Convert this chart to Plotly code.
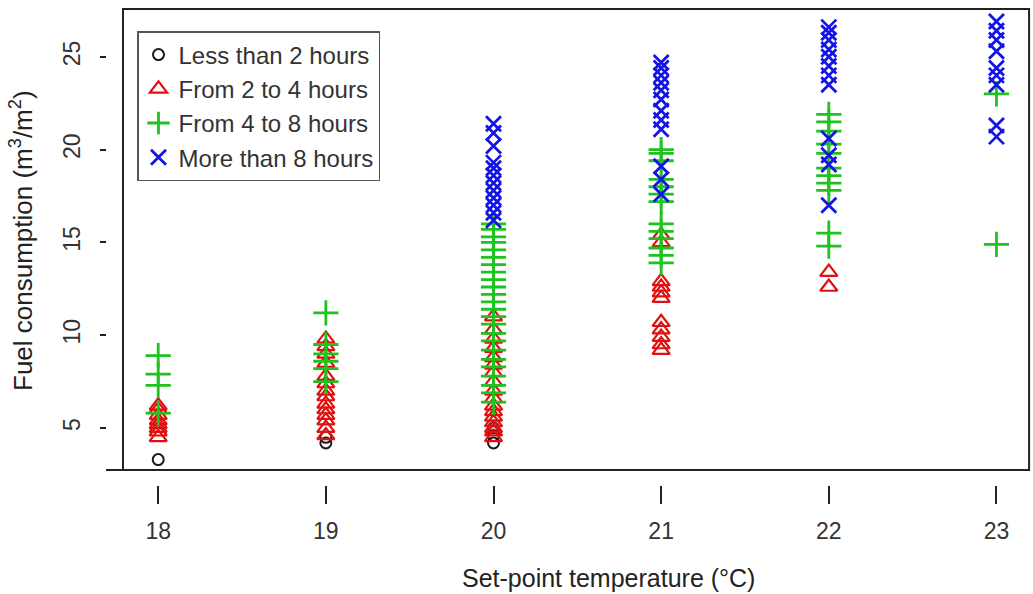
import plotly.graph_objects as go

# ---------------- data ----------------
temps = [18, 19, 20, 21, 22, 23]
y_ticks = [5, 10, 15, 20, 25]

less2_x = [18, 19, 19, 20, 20, 20]
less2_y = [3.3, 4.2, 4.5, 4.2, 4.6, 5.0]

from2to4_x = ([18] * 8 + [19] * 14 + [20] * 17 + [21] * 11 + [22] * 2)
from2to4_y = [4.5, 4.8, 5.0, 5.2, 5.4, 5.7, 6.0, 6.2,
              4.6, 5.0, 5.4, 5.7, 6.0, 6.3, 6.7, 7.0, 7.4, 7.8, 8.5, 9.0, 9.4, 9.8,
              4.5, 4.8, 5.0, 5.3, 5.6, 5.9, 6.2, 6.6, 7.0, 7.5, 8.0, 8.4, 8.8, 9.3, 9.8, 10.3, 11.0,
              9.2, 9.5, 9.9, 10.3, 10.7, 12.0, 12.3, 12.6, 12.9, 15.0, 15.4,
              12.6, 13.4]

from4to8_x = ([18] * 4 + [19] * 6 + [20] * 24 + [21] * 13 + [22] * 11 + [23] * 2)
from4to8_y = [5.8, 7.3, 7.9, 8.9,
              7.5, 8.2, 8.6, 9.0, 9.5, 11.2,
              6.4, 6.9, 7.3, 7.8, 8.3, 8.7, 9.2, 9.7, 10.1, 10.6, 11.0, 11.4, 11.8, 12.2,
              12.6, 13.0, 13.4, 13.8, 14.2, 14.6, 15.0, 15.3, 15.7, 16.0,
              13.9, 14.3, 14.7, 15.2, 15.6, 16.0, 17.2, 17.6, 18.0, 18.4, 19.4, 19.8, 20.0,
              14.8, 15.5, 17.8, 18.2, 18.6, 19.0, 19.8, 20.3, 21.0, 21.5, 21.9,
              14.9, 23.0]

more8_x = ([20] * 12 + [21] * 12 + [22] * 12 + [23] * 9)
more8_y = [16.2, 16.6, 17.0, 17.4, 17.8, 18.2, 18.6, 19.0, 19.3, 20.2, 20.9, 21.4,
           17.6, 18.4, 19.1, 21.1, 21.6, 22.1, 22.7, 23.2, 23.6, 24.0, 24.4, 24.7,
           17.0, 19.2, 19.7, 20.6, 23.5, 24.0, 24.5, 25.0, 25.4, 25.9, 26.3, 26.6,
           20.7, 21.3, 23.5, 24.0, 24.4, 25.3, 25.9, 26.4, 26.9]

series_names = ["Less than 2 hours", "From 2 to 4 hours", "From 4 to 8 hours", "More than 8 hours"]

# ---------------- layout geometry ----------------
W, H = 1033, 594
ml, mr, mt, mb = 106, 3, 8, 109
pw = W - ml - mr
ph = H - mt - mb
x_dom0 = (123 - ml) / pw
y_dom0 = (485 - 470) / ph

fig = go.Figure()

fig.add_trace(go.Scatter(x=less2_x, y=less2_y, mode="markers", name=series_names[0],
                         marker=dict(symbol="circle-open", size=11, color="#1a1a1a",
                                     line=dict(width=2, color="#1a1a1a"))))
fig.add_trace(go.Scatter(x=from2to4_x, y=from2to4_y, mode="markers", name=series_names[1],
                         marker=dict(symbol="triangle-up-open", size=15, color="#e01010",
                                     line=dict(width=2.2, color="#e01010"))))
fig.add_trace(go.Scatter(x=from4to8_x, y=from4to8_y, mode="markers", name=series_names[2],
                         marker=dict(symbol="cross-thin-open", size=18, color="#1fc21f",
                                     line=dict(width=2.8, color="#1fc21f"))))
fig.add_trace(go.Scatter(x=more8_x, y=more8_y, mode="markers", name=series_names[3],
                         marker=dict(symbol="x-thin-open", size=15, color="#1414e6",
                                     line=dict(width=2.8, color="#1414e6"))))

tick_font = dict(family="Liberation Sans, Arial", size=23, color="#333333")

fig.update_layout(
    width=W, height=H,
    margin=dict(l=ml, r=mr, t=mt, b=mb, pad=0),
    paper_bgcolor="white", plot_bgcolor="white",
    showlegend=True,
    legend=dict(x=(137 - ml) / pw, y=(485 - 31) / ph, xanchor="left", yanchor="top",
                bgcolor="white", bordercolor="#555555", borderwidth=1.5,
                font=dict(family="Liberation Sans, Arial", size=24, color="#333333"),
                itemsizing="trace"),
    xaxis=dict(domain=[x_dom0, 1], range=[17.79, 23.2], anchor="free", position=0,
               tickmode="array", tickvals=temps, ticktext=[str(t) for t in temps],
               ticks="outside", ticklen=18, tickwidth=2.2, tickcolor="#222222",
               showline=False, showgrid=False, zeroline=False,
               tickfont=tick_font, ticklabelstandoff=7),
    yaxis=dict(domain=[y_dom0, 1], range=[2.74, 27.63], anchor="free", position=0,
               tickmode="array", tickvals=y_ticks, ticktext=[str(v) for v in y_ticks],
               ticks="outside", ticklen=6, tickwidth=2.2, tickcolor="#222222",
               showline=False, showgrid=False, zeroline=False,
               tickangle=-90, tickfont=tick_font, ticklabelstandoff=11),
)

# plot frame
fig.add_shape(type="rect", xref="paper", yref="paper", x0=x_dom0, x1=0.999, y0=y_dom0, y1=0.998,
              line=dict(color="#222222", width=2), layer="above")
fig.add_shape(type="line", xref="paper", yref="paper", x0=0, x1=x_dom0, y0=y_dom0, y1=y_dom0,
              line=dict(color="#222222", width=2))

# axis titles
fig.add_annotation(text="Set-point temperature (°C)", xref="paper", yref="paper",
                   x=(608 - ml) / pw, y=(485 - 578) / ph, xanchor="center", yanchor="middle",
                   showarrow=False,
                   font=dict(family="Liberation Sans, Arial", size=25, color="#222222"))
fig.add_annotation(text="Fuel consumption (m<sup>3</sup>/m<sup>2</sup>)", xref="paper", yref="paper",
                   x=(22 - ml) / pw, y=(485 - 241) / ph, xanchor="center", yanchor="middle",
                   textangle=-90, showarrow=False,
                   font=dict(family="Liberation Sans, Arial", size=26, color="#222222"))

fig.write_html("out.html")
